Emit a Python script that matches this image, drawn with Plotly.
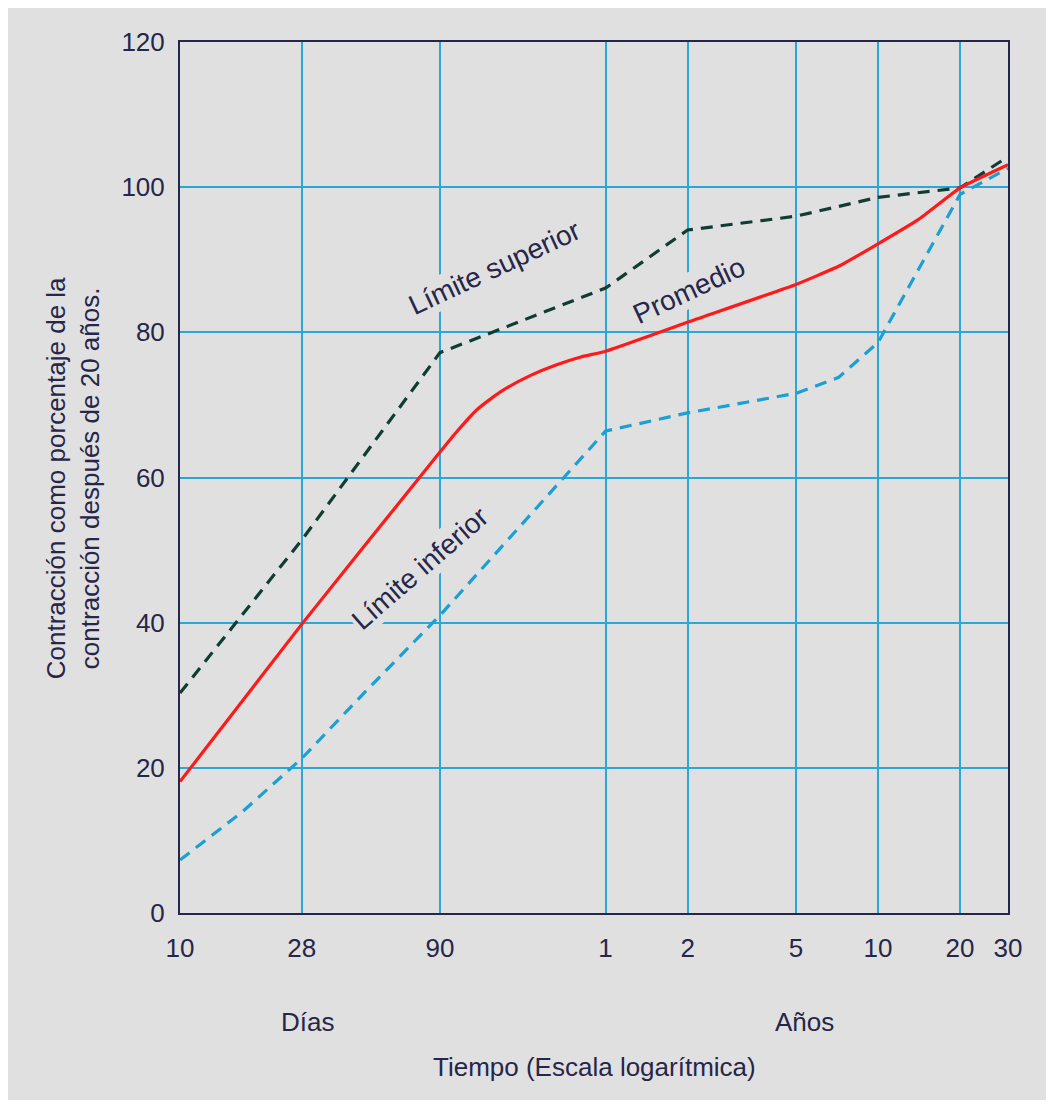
import plotly.graph_objects as go

# Tiempo en días (escala logarítmica)
tick_vals = [10, 28, 90, 365, 730, 1825, 3650, 7300, 10950]
tick_text = ["10", "28", "90", "1", "2", "5", "10", "20", "30"]

sup_x = [10, 28, 90, 365, 730, 1825, 3650, 7300, 10950]
sup_y = [30.3, 51.4, 77.2, 86.1, 94.1, 96.0, 98.6, 99.9, 104.2]

prom_x = [10, 28, 90, 103.7, 122.7, 139, 157.8, 194.5, 240, 296, 365, 730, 1825,
          2617, 3650, 5162, 7300, 10950]
prom_y = [18.1, 39.8, 63.5, 66.3, 69.3, 70.9, 72.3, 74.1, 75.5, 76.6, 77.4, 81.4, 86.6,
          89.1, 92.2, 95.6, 99.9, 103.1]

inf_x = [10, 16.9, 28, 47.9, 90, 365, 730, 1825, 2617, 3650, 7300, 10950]
inf_y = [7.3, 13.9, 21.3, 30.5, 41.0, 66.4, 68.9, 71.6, 73.8, 78.6, 99.0, 102.6]

BG = "#e0e0e0"
TXT = "#26264a"
GRID = "#29a8d8"
FONT = "Liberation Sans, Arial, sans-serif"

fig = go.Figure()
fig.add_trace(go.Scatter(x=sup_x, y=sup_y, mode="lines", name="Límite superior",
                         line=dict(color="#0f3d33", width=3.2, dash="12px,8px")))
fig.add_trace(go.Scatter(x=inf_x, y=inf_y, mode="lines", name="Límite inferior",
                         line=dict(color="#1aa0d4", width=3.2, dash="12px,8px")))
fig.add_trace(go.Scatter(x=prom_x, y=prom_y, mode="lines", name="Promedio",
                         line=dict(color="#ff1a1a", width=3.2, shape="spline",
                                   smoothing=0.35)))

fig.update_layout(
    width=1038, height=1092,
    margin=dict(l=172, r=38, t=34, b=187),
    paper_bgcolor=BG, plot_bgcolor=BG,
    showlegend=False,
    font=dict(family=FONT, color=TXT, size=26),
    xaxis=dict(type="log", range=[1, 4.0394], tickvals=tick_vals, ticktext=tick_text,
               showgrid=True, gridcolor=GRID, gridwidth=2,
               showline=True, linecolor=TXT, linewidth=2, mirror=True,
               ticks="", zeroline=False, ticklabelstandoff=11,
               tickfont=dict(size=26, color=TXT)),
    yaxis=dict(range=[0, 120], tickvals=[0, 20, 40, 60, 80, 100, 120],
               showgrid=True, gridcolor=GRID, gridwidth=2,
               showline=True, linecolor=TXT, linewidth=2, mirror=True,
               ticks="", zeroline=False, ticklabelstandoff=8,
               tickfont=dict(size=26, color=TXT)),
)

ann_font = dict(family=FONT, size=28, color=TXT)
fig.add_annotation(x=2.156, y=88.9, xref="x", yref="y", text="Límite superior",
                   textangle=-25, showarrow=False, font=ann_font, bgcolor=BG,
                   xanchor="center", yanchor="middle")
fig.add_annotation(x=2.868, y=85.8, xref="x", yref="y", text="Promedio",
                   textangle=-25, showarrow=False, font=ann_font, bgcolor=BG,
                   xanchor="center", yanchor="middle")
fig.add_annotation(x=1.88, y=47.5, xref="x", yref="y", text="Límite inferior",
                   textangle=-41, showarrow=False, font=ann_font, bgcolor=BG,
                   xanchor="center", yanchor="middle")

lab_font = dict(family=FONT, size=26, color=TXT)
fig.add_annotation(x=0.1534, y=-0.125, xref="paper", yref="paper", text="Días",
                   showarrow=False, font=lab_font, xanchor="center", yanchor="middle")
fig.add_annotation(x=0.7548, y=-0.125, xref="paper", yref="paper", text="Años",
                   showarrow=False, font=lab_font, xanchor="center", yanchor="middle")
fig.add_annotation(x=0.501, y=-0.1768, xref="paper", yref="paper",
                   text="Tiempo (Escala logarítmica)",
                   showarrow=False, font=lab_font, xanchor="center", yanchor="middle")
fig.add_annotation(x=-0.129, y=0.4994, xref="paper", yref="paper",
                   text="Contracción como porcentaje de la<br>contracción después de 20 años.",
                   textangle=-90, showarrow=False, font=lab_font,
                   xanchor="center", yanchor="middle")

fig.write_html("out.html")
